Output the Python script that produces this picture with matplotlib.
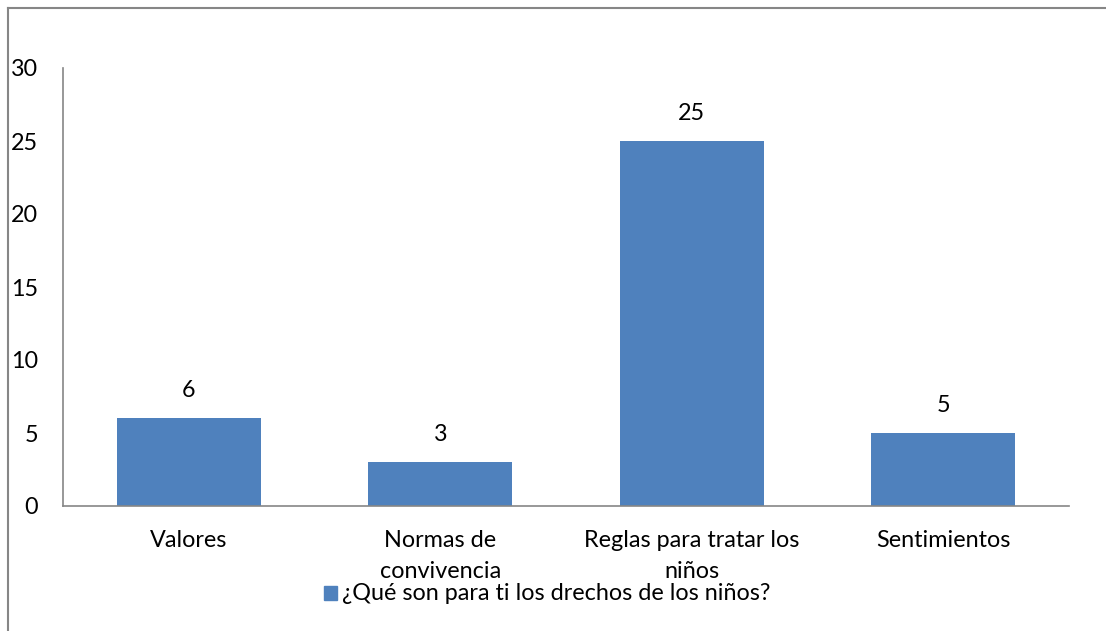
import matplotlib
matplotlib.use("Agg")
import matplotlib.pyplot as plt
from matplotlib.patches import Rectangle
from matplotlib.lines import Line2D

categories = ["Valores", "Normas de\nconvivencia", "Reglas para tratar los\nniños", "Sentimientos"]
values = [6, 3, 25, 5]
yticks = [0, 5, 10, 15, 20, 25, 30]
series_name = "¿Qué son para ti los drechos de los niños?"

plt.rcParams['font.family'] = ['Lato', 'DejaVu Sans']

W, H = 1106, 631
FS = 16.8
fig = plt.figure(figsize=(W / 100, H / 100), dpi=100)
ax = fig.add_axes([63 / W, 1 - 506 / H, (1069 - 63) / W, (506 - 68) / H])

x = list(range(len(categories)))
ax.bar(x, values, width=0.573, color="#4F81BD", zorder=2)
ax.set_xlim(-0.5, len(categories) - 0.5)
ax.set_ylim(0, 30)
ax.set_yticks(yticks)
ax.set_yticklabels([str(t) for t in yticks], fontsize=FS)
ax.set_xticks(x)
ax.set_xticklabels(categories, fontsize=FS, linespacing=1.6, va="top")
ax.tick_params(axis="both", length=0)
ax.tick_params(axis="y", pad=18)
ax.tick_params(axis="x", pad=17)

for s in ["top", "right"]:
    ax.spines[s].set_visible(False)
for s in ["left", "bottom"]:
    ax.spines[s].set_color("#868686")
    ax.spines[s].set_linewidth(1.2)

for xi, v in zip(x, values):
    ax.annotate(str(v), (xi, v), xytext=(0, 20), textcoords="offset points",
                ha="center", va="center", fontsize=FS)

# legend
fig.add_artist(Rectangle((324 / W, 1 - 600 / H), 13 / W, 14 / H,
                         transform=fig.transFigure, color="#4F81BD"))
fig.text(342 / W, 1 - 593 / H, series_name, fontsize=FS, va="center", ha="left")

# outer frame (top and left visible)
fig.add_artist(Line2D([8 / W, 1.0], [1 - 8 / H, 1 - 8 / H], transform=fig.transFigure,
                      color="#868686", linewidth=1.5))
fig.add_artist(Line2D([8 / W, 8 / W], [1 - 8 / H, 0.0], transform=fig.transFigure,
                      color="#868686", linewidth=1.5))

fig.savefig("out.png", dpi=100)
